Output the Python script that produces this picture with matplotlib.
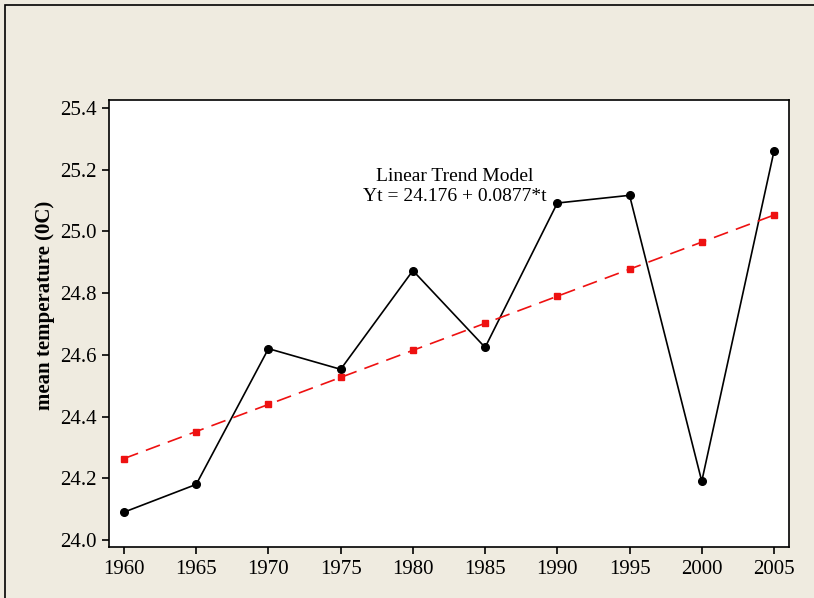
import matplotlib
matplotlib.use("Agg")
import matplotlib.pyplot as plt
from matplotlib.patches import Rectangle

years = [1960, 1965, 1970, 1975, 1980, 1985, 1990, 1995, 2000, 2005]
mean_temp = [24.09, 24.18, 24.62, 24.553, 24.873, 24.624, 25.092, 25.117, 24.19, 25.26]
t_index = list(range(1, 11))
intercept = 24.176
slope = 0.0877
trend = [intercept + slope * t for t in t_index]
yticks = [24.0, 24.2, 24.4, 24.6, 24.8, 25.0, 25.2, 25.4]

serif = ["Liberation Serif", "DejaVu Serif"]
bg = "#efebe0"

fig = plt.figure(figsize=(8.14, 5.98), dpi=100, facecolor=bg)
W, H = 814, 598
fig.patches.append(Rectangle((5 / W, -0.05), 1.2, 1 - 5 / H + 0.05,
                             transform=fig.transFigure, fill=False,
                             edgecolor="black", linewidth=1.2))

ax = fig.add_axes([109 / W, 1 - 547 / H, 680 / W, 447 / H])
ax.set_facecolor("white")
ax.plot(years, mean_temp, color="black", linewidth=1.2, marker="o", markersize=5.5)
ax.plot(years, trend, color="#ee1111", linewidth=1.2, linestyle=(0, (9, 5)),
        marker="s", markersize=5)

ax.set_xlim(1958.96, 2006.04)
ax.set_ylim(23.977, 25.426)
ax.set_xticks(years)
ax.set_yticks(yticks)
ax.set_xticklabels([str(y) for y in years], fontfamily=serif, fontsize=15)
ax.set_yticklabels([f"{v:.1f}" for v in yticks], fontfamily=serif, fontsize=15)
ax.tick_params(direction="out", length=5, width=1.2, pad=4)
for s in ax.spines.values():
    s.set_linewidth(1.2)

ax.set_ylabel("mean temperature (0C)", fontfamily=serif, fontweight="bold",
              fontsize=15)
ax.yaxis.set_label_coords(-54 / 680, (547 - 305) / 447)

ax.text(1982.9, 25.145, "Linear Trend Model\nYt = 24.176 + 0.0877*t",
        ha="center", va="center", fontfamily=serif, fontsize=14,
        linespacing=1.2)

fig.savefig("out.png", dpi=100, facecolor=bg)
